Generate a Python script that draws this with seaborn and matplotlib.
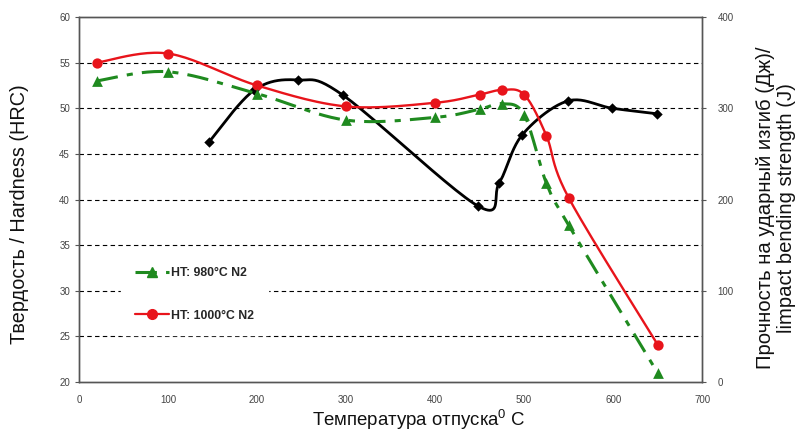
import numpy as np
import pandas as pd
import matplotlib
matplotlib.use("Agg")
import matplotlib.pyplot as plt
import seaborn as sns
from matplotlib.lines import Line2D

# ---- data ----
temp_980 = [20, 100, 200, 300, 400, 450, 475, 500, 525, 550, 650]
hard_980 = [53.0, 54.0, 51.6, 48.7, 49.0, 49.9, 50.5, 49.3, 41.8, 37.2, 21.0]

temp_1000 = [20, 100, 200, 300, 400, 450, 475, 500, 525, 550, 650]
hard_1000 = [55.0, 56.0, 52.5, 50.2, 50.6, 51.5, 52.0, 51.5, 47.0, 40.2, 24.1]

temp_impact = [146, 197, 246, 297, 448, 472, 498, 549, 599, 649]
impact = [263, 320, 331, 314, 193, 218, 271, 308, 300, 294]

label_980 = "HT: 980°C N2"
label_1000 = "HT: 1000°C N2"
x_ticks = [0, 100, 200, 300, 400, 500, 600, 700]
y_left_ticks = [20, 25, 30, 35, 40, 45, 50, 55, 60]
y_right_ticks = [0, 100, 200, 300, 400]


def smooth(xs, ys, n=24):
    """Excel-like smoothed line (uniform Catmull-Rom through the points)."""
    P = np.column_stack([xs, ys]).astype(float)
    P = np.vstack([P[0], P, P[-1]])
    out = []
    t = np.linspace(0, 1, n, endpoint=False)[:, None]
    for i in range(1, len(P) - 2):
        p0, p1, p2, p3 = P[i - 1], P[i], P[i + 1], P[i + 2]
        c1 = p1 + (p2 - p0) / 6.0
        c2 = p2 - (p3 - p1) / 6.0
        seg = ((1 - t) ** 3) * p1 + 3 * ((1 - t) ** 2) * t * c1 + 3 * (1 - t) * t ** 2 * c2 + t ** 3 * p2
        out.append(seg)
    out.append(P[-2][None, :])
    arr = np.vstack(out)
    return arr[:, 0], arr[:, 1]


sns.set_theme(style="white")
plt.rcParams["font.family"] = ["Liberation Sans", "DejaVu Sans"]
plt.rcParams["mathtext.default"] = "regular"

fig = plt.figure(figsize=(8.01, 4.42), dpi=100)
ax = fig.add_axes([0.0986, 0.1357, 0.778, 0.8258])
ax2 = ax.twinx()

RED = "#e8141b"
GREEN = "#1f8a1f"

# smooth curves
sx, sy = smooth(temp_1000, hard_1000)
sns.lineplot(x=sx, y=sy, ax=ax, color=RED, lw=1.7, sort=False, estimator=None)
gx, gy = smooth(temp_980, hard_980)
sns.lineplot(x=gx, y=gy, ax=ax, color=GREEN, lw=2.2, sort=False, estimator=None,
             dashes=False)
ax.lines[-1].set_dashes([7, 3, 2, 3])
bx, by = smooth(temp_impact, impact)
sns.lineplot(x=bx, y=by, ax=ax2, color="black", lw=2.0, sort=False, estimator=None)

# markers
sns.scatterplot(x=temp_1000, y=hard_1000, ax=ax, color=RED, marker="o", s=55,
                edgecolor=RED, linewidth=0, zorder=5)
sns.scatterplot(x=temp_980, y=hard_980, ax=ax, color=GREEN, marker="^", s=60,
                edgecolor=GREEN, linewidth=0, zorder=5)
sns.scatterplot(x=temp_impact, y=impact, ax=ax2, color="black", marker="D", s=28,
                edgecolor="black", linewidth=0, zorder=5)

ax.set_xlim(0, 700)
ax.set_ylim(20, 60)
ax2.set_ylim(0, 400)
ax.set_xticks(x_ticks)
ax.set_yticks(y_left_ticks)
ax2.set_yticks(y_right_ticks)

# gridlines
for v in y_left_ticks[1:-1]:
    ax.axhline(v, color="black", lw=0.8, dashes=(4, 3), zorder=0)

for a in (ax, ax2):
    for s in a.spines.values():
        s.set_color("#555555")
        s.set_linewidth(1.0)
        s.set_visible(True)
ax.tick_params(axis="x", direction="inout", length=7, width=0.8, colors="#555555",
               labelsize=7, labelcolor="#444444", pad=6)
ax.tick_params(axis="y", direction="out", length=3, width=0.8, colors="#555555",
               labelsize=7, labelcolor="#444444", left=True)
ax2.tick_params(axis="y", direction="out", length=3, width=0.8, colors="#555555",
                labelsize=7, labelcolor="#444444", right=True, pad=8)

ax.set_xlabel("Температура отпуска$^0$ C", fontsize=13.4, color="#111111")
ax.xaxis.set_label_coords(0.545, -0.072)
ax.set_ylabel("Твердость / Hardness (HRC)", fontsize=14.3, color="#111111")
ax.yaxis.set_label_coords(-0.08, 0.46)
ax2.set_ylabel("Прочность на ударный изгиб (Дж)/\nlimpact bending strength (J)",
               fontsize=14.6, color="#111111", linespacing=1.15)
ax2.yaxis.set_label_position("right")
ax2.yaxis.set_label_coords(1.086, 0.477)

handles = [
    Line2D([], [], color=GREEN, lw=2.2, dashes=[7, 3, 2, 3], marker="^", markersize=7),
    Line2D([], [], color=RED, lw=1.6, marker="o", markersize=7),
]
leg = ax.legend(handles, [label_980, label_1000], loc="center left",
                bbox_to_anchor=(0.068, 0.24), frameon=True, fancybox=False,
                framealpha=1, edgecolor="white", facecolor="white",
                prop={"weight": "bold", "size": 8.8}, labelspacing=2.5,
                handlelength=2.8, handletextpad=0.2, borderpad=1.1, borderaxespad=0)
leg.set_zorder(10)
ax.set_zorder(ax2.get_zorder() + 1)
ax.patch.set_visible(False)

fig.savefig("out.png", dpi=100)
